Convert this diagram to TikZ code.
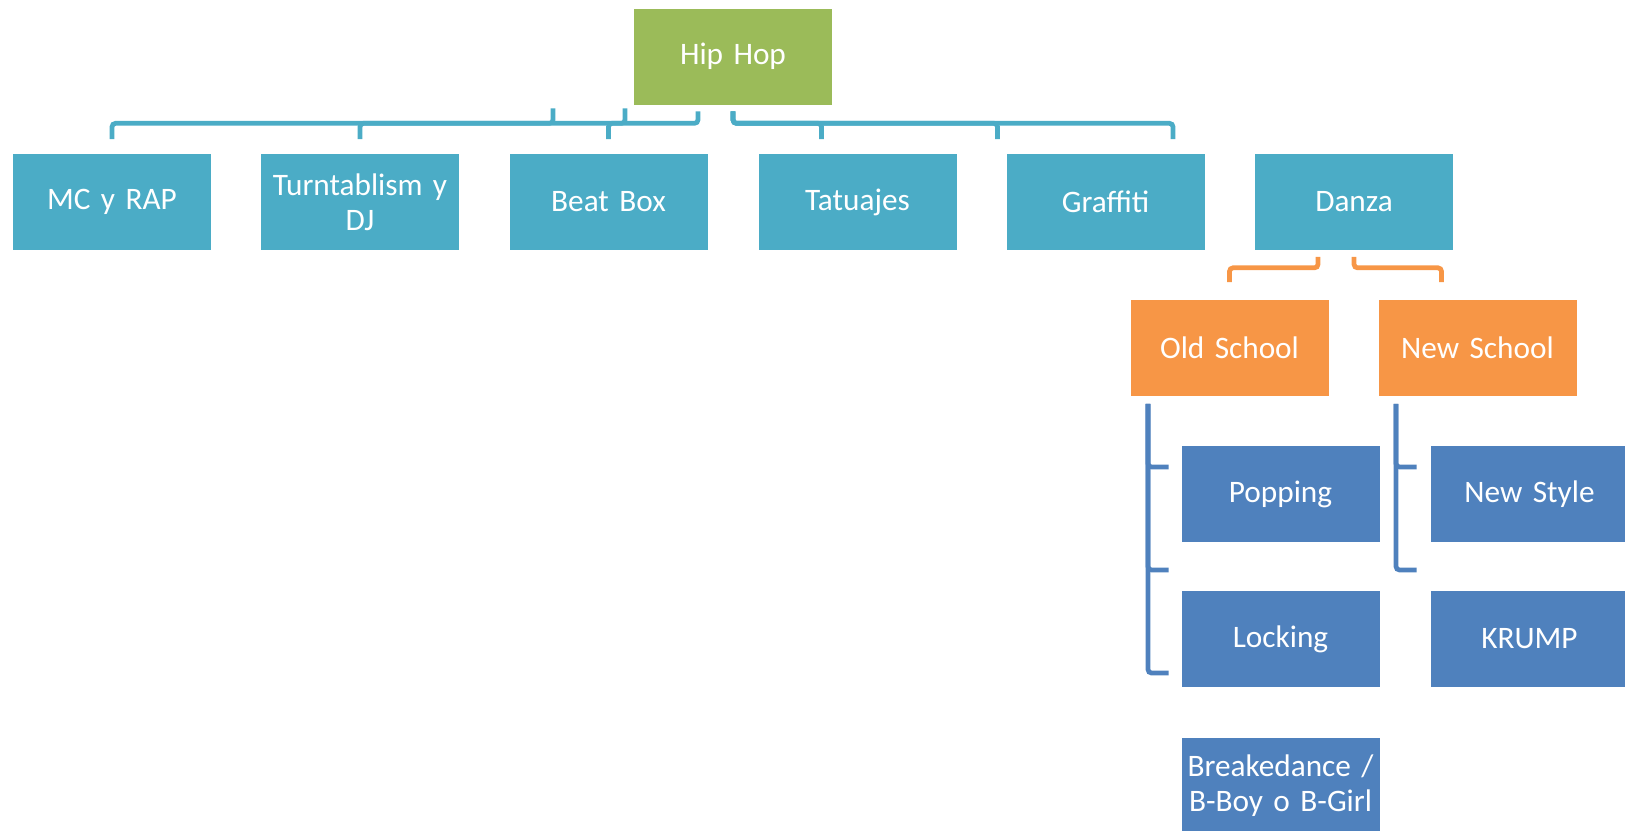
\documentclass[tikz,border=0pt]{standalone}
\usepackage{fontspec}
\setmainfont{Carlito}
\usepackage{tikz}
\usetikzlibrary{calc}
\definecolor{hhgreen}{HTML}{9BBB59}
\definecolor{hhteal}{HTML}{4BACC6}
\definecolor{hhorange}{HTML}{F79646}
\definecolor{hhblue}{HTML}{4F81BD}
\tikzset{
  box/.style={rectangle, minimum width=3.98cm, minimum height=1.94cm, inner sep=0pt,
    text width=3.9cm, align=center, text=white, draw=white, line width=0.4pt,
    font=\fontsize{17.8}{20}\selectfont},
  rootbox/.style={box, fill=hhgreen},
  artbox/.style={box, fill=hhteal},
  schoolbox/.style={box, fill=hhorange},
  stylebox/.style={box, fill=hhblue},
  tline/.style={draw=hhteal, line width=2.7pt, rounded corners=2pt},
  oline/.style={draw=hhorange, line width=2.7pt, rounded corners=2pt},
  bline/.style={draw=hhblue, line width=2.7pt, rounded corners=2pt}
}

\begin{document}
\begin{tikzpicture}[x=0.02cm, y=-0.02cm]
  \useasboundingbox (0,0) rectangle (1625,831);

  \node[rootbox] (hh) at (733,56.5) {Hip Hop};

  \node[artbox] (mc) at (112,202) {MC y RAP};
  \node[artbox] (tt) at (360,202) {Turntablism y\\DJ};
  \node[artbox] (bb) at (608.5,202) {Beat Box};
  \node[artbox] (ta) at (857.5,202) {Tatuajes};
  \node[artbox] (gr) at (1105.5,202) {Graffiti};
  \node[artbox] (da) at (1354,202) {Danza};

  \node[schoolbox] (os) at (1229.5,348) {Old School};
  \node[schoolbox] (ns) at (1477.5,348) {New School};

  \node[stylebox] (po) at (1280.5,494) {Popping};
  \node[stylebox] (lo) at (1280.5,639) {Locking};
  \node[stylebox] (br) at (1280.5,785.5) {Breakedance /\\B-Boy o B-Girl};
  \node[stylebox] (nst) at (1529.5,494) {New Style};
  \node[stylebox] (kr) at (1529.5,639) {KRUMP};

  % Hip Hop
  \draw[tline] ($(hh.south)+(-180,3)$) -- ++(0,15) -| ($(mc.north)+(0,-14)$);
  \draw[tline] ($(hh.south)+(-108,3)$) -- ++(0,15) -| ($(tt.north)+(0,-14)$);
  \draw[tline] ($(hh.south)+(-35,6)$) -- ++(0,12) -| ($(bb.north)+(0,-14)$);
  \draw[tline] ($(hh.south)+(0,6)$) -- ++(0,12) -| ($(ta.north)+(-36,-14)$);
  \draw[tline] ($(hh.south)+(0,6)$) -- ++(0,12) -| ($(gr.north)+(-108,-14)$);
  \draw[tline] ($(hh.south)+(0,6)$) -- ++(0,12) -| ($(da.north)+(-181,-14)$);

  % Danza
  \draw[oline] ($(da.south)+(-36,6)$) -- ++(0,11) -| ($(os.north)+(0,-17)$);
  \draw[oline] ($(da.south)+(0,6)$) -- ++(0,11) -| ($(ns.north)+(-36,-17)$);

  % Old School / New School
  \draw[bline] ($(os.south)+(-81.5,7)$) |- ($(po.west)+(-12,-27)$);
  \draw[bline] ($(os.south)+(-81.5,7)$) |- ($(lo.west)+(-12,-69)$);
  \draw[bline] ($(os.south)+(-81.5,7)$) |- ($(lo.west)+(-12,34)$);
  \draw[bline] ($(ns.south)+(-81.5,7)$) |- ($(nst.west)+(-13,-27)$);
  \draw[bline] ($(ns.south)+(-81.5,7)$) |- ($(kr.west)+(-13,-69)$);
\end{tikzpicture}
\end{document}
